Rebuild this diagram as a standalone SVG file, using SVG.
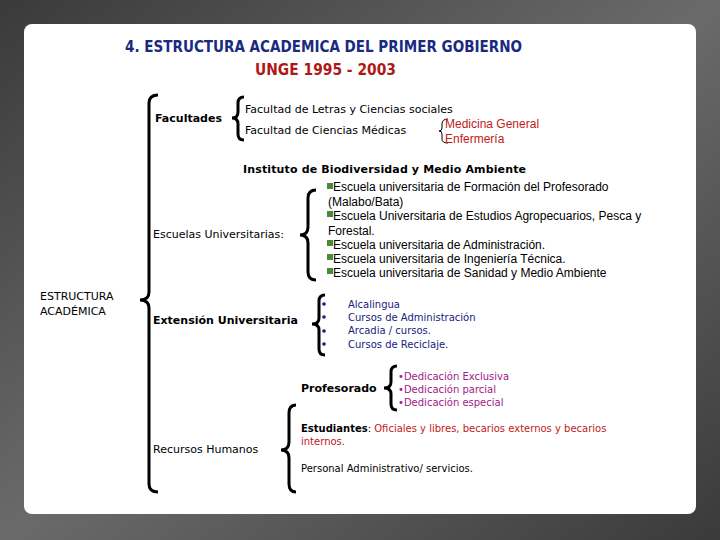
<svg xmlns="http://www.w3.org/2000/svg" width="720" height="540" viewBox="0 0 720 540">
<defs>
<linearGradient id="bg" x1="0" y1="0" x2="1" y2="1"><stop offset="0" stop-color="#3a3a3a"/><stop offset="0.5" stop-color="#6a6a6a"/><stop offset="1" stop-color="#3a3a3a"/></linearGradient>
</defs>
<style>
.t{font-family:"DejaVu Sans",sans-serif;font-size:11px;fill:#000}
.sm{font-size:10px}
.b{font-weight:bold}
.s{font-family:"Liberation Sans",sans-serif;font-size:12px;fill:#000}
.br{fill:none;stroke:#000;stroke-width:3}
.blue{fill:#1a1a80}
.mag{fill:#a0208a}
.red{fill:#c02020}
</style>
<rect width="720" height="540" fill="url(#bg)"/>
<rect x="24" y="24" width="672" height="490" rx="8" fill="#fff"/>
<g id="title" font-family="'DejaVu Sans Condensed','DejaVu Sans',sans-serif" font-size="16" font-weight="bold">
<text x="125" y="52" fill="#1a2a80" textLength="397" lengthAdjust="spacingAndGlyphs">4. ESTRUCTURA ACADEMICA DEL PRIMER GOBIERNO</text>
<text x="255" y="75" fill="#b01818" textLength="141" lengthAdjust="spacingAndGlyphs">UNGE 1995 - 2003</text>
</g>
<g id="connectors">
<path class="br" d="M158,95 Q149,95 149,103 L149,292 Q149,300 140,300 Q149,300 149,308 L149,484 Q149,492 158,492"/>
<path class="br" d="M244,97 Q238,97 238,103 L238,112 Q238,118 232,118 Q238,118 238,124 L238,134 Q238,140 244,140"/>
<path class="br" d="M316,190 Q308,190 308,198 L308,227 Q308,235 300,235 Q308,235 308,243 L308,272 Q308,280 316,280"/>
<path class="br" d="M325,295 Q319,295 319,301 L319,318 Q319,324 312,324 Q319,324 319,330 L319,349 Q319,355 325,355" stroke="#1a1a80"/>
<path class="br" d="M397,366 Q391,366 391,372 L391,382 Q391,388 384,388 Q391,388 391,394 L391,404 Q391,410 397,410"/>
<path class="br" d="M296,405 Q289,405 289,413 L289,442 Q289,450 281,450 Q289,450 289,458 L289,484 Q289,492 296,492"/>
</g>
<g id="n-root"><text class="t" x="40" y="300">ESTRUCTURA</text><text class="t" x="40" y="315">ACADÉMICA</text></g>
<g id="n-facultades"><text class="t b" x="155" y="122">Facultades</text></g>
<g id="n-fac-items">
<text class="t" x="245" y="113">Facultad  de Letras y Ciencias sociales</text>
<text class="t" x="245" y="134">Facultad de Ciencias Médicas</text>
<path d="M448,119 Q442,119 442,124 L442,128 Q442,131 439,131 Q442,131 442,134 L442,139 Q442,143 448,143" fill="none" stroke="#000"/>
<text class="s red" x="445" y="128">Medicina General</text>
<text class="s red" x="445" y="143">Enfermería</text>
</g>
<g id="n-instituto"><text class="t b" x="243" y="173" textLength="283">Instituto de Biodiversidad  y Medio Ambiente</text></g>
<g id="n-escuelas"><text class="t" x="153" y="238">Escuelas Universitarias:</text></g>
<g id="n-esc-items" font-family="'Liberation Sans',sans-serif" font-size="12">
<g fill="#4a8a3a"><rect x="327" y="183" width="6" height="6"/><rect x="327" y="211" width="6" height="6"/><rect x="327" y="240" width="6" height="6"/><rect x="327" y="254" width="6" height="6"/><rect x="327" y="268" width="6" height="6"/></g>
<text x="333" y="191">Escuela universitaria de Formación del Profesorado</text>
<text x="328" y="206">(Malabo/Bata)</text>
<text x="333" y="220">Escuela Universitaria  de Estudios Agropecuarios, Pesca y</text>
<text x="328" y="235">Forestal.</text>
<text x="333" y="249">Escuela universitaria de Administración.</text>
<text x="333" y="263">Escuela universitaria de Ingeniería Técnica.</text>
<text x="333" y="277">Escuela universitaria de Sanidad y Medio Ambiente</text>
</g>
<g id="n-extension"><text class="t b" x="153" y="324">Extensión Universitaria</text></g>
<g id="n-ext-items">
<g fill="#1a1a80"><circle cx="324" cy="304" r="1.8"/><circle cx="324" cy="317" r="1.8"/><circle cx="324" cy="331" r="1.8"/><circle cx="324" cy="344" r="1.8"/></g>
<text class="t sm blue" x="348" y="308">Alcalingua</text>
<text class="t sm blue" x="348" y="321">Cursos de Administración</text>
<text class="t sm blue" x="348" y="334">Arcadia / cursos.</text>
<text class="t sm blue" x="348" y="348">Cursos de Reciclaje.</text>
</g>
<g id="n-profesorado"><text class="t b" x="301" y="392">Profesorado</text></g>
<g id="n-prof-items">
<text class="t sm mag" x="398" y="380">•Dedicación Exclusiva</text>
<text class="t sm mag" x="398" y="393">•Dedicación parcial</text>
<text class="t sm mag" x="398" y="406">•Dedicación especial</text>
</g>
<g id="n-recursos"><text class="t" x="153" y="453">Recursos Humanos</text></g>
<g id="n-rh-items">
<text class="t sm" x="301" y="432"><tspan class="b">Estudiantes</tspan>: <tspan class="red">Oficiales y libres,  becarios externos y becarios</tspan></text>
<text class="t sm red" x="301" y="445">internos.</text>
<text class="t sm" x="301" y="472">Personal Administrativo/ servicios.</text>
</g>
</svg>
